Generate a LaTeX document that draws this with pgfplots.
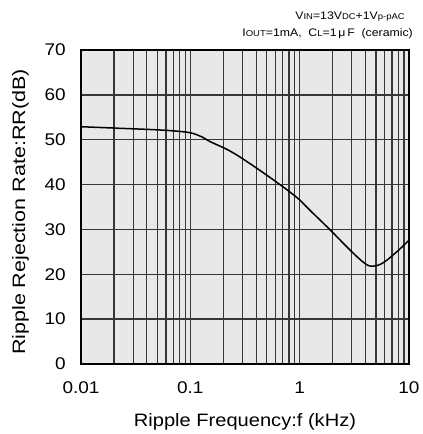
\documentclass[border=0pt]{standalone}
\usepackage{fontspec}
\setmainfont{Liberation Sans}
\newfontfamily\wide[FakeStretch=1.12]{Liberation Sans}
\newfontfamily\wider[FakeStretch=1.2]{Liberation Sans}
\usepackage{pgfplots}
\pgfplotsset{compat=1.18}
\definecolor{bgfill}{RGB}{232,232,232}
\definecolor{gridc}{RGB}{55,55,55}

\begin{document}
\begin{tikzpicture}
  \path[use as bounding box] (-81bp,-70bp) rectangle (342bp,364bp);
  \begin{axis}[
    scale only axis,
    width=328bp, height=314bp,
    xmode=log,
    xmin=0.01, xmax=10,
    ymin=0, ymax=70,
    xtick={0.01,0.1,1,10},
    xticklabels={0.01,0.1,1,10},
    ytick={0,10,...,70},
    yticklabels={0,10,20,30,40,50,60,70},
    major tick length=0pt, minor tick length=0pt,
    grid=both,
    major grid style={gridc, line width=1.3bp},
    minor grid style={gridc, line width=1.3bp},
    axis line style={black, line width=1.1bp},
    axis background/.style={fill=bgfill},
    tick label style={font=\wide\fontsize{17}{19}\selectfont, inner sep=0pt},
    xticklabel style={anchor=center, yshift=-24bp},
    yticklabel style={anchor=east, xshift=-15bp},
    xlabel={Ripple Frequency:f (kHz)},
    ylabel={Ripple Rejection Rate:RR(dB)},
    xlabel style={font=\wide\fontsize{18}{20}\selectfont, inner sep=0pt,
      at={(axis description cs:0.5,-0.2006)}, anchor=base},
    ylabel style={font=\wider\fontsize{18}{20}\selectfont, inner sep=0pt,
      at={(axis description cs:-0.1707,0.484)}, anchor=base},
  ]
    \addplot[black, line width=1.5bp, smooth, tension=0.6] coordinates {
      (0.01,52.9) (0.02,52.6) (0.05,52.2) (0.08,51.85) (0.1,51.55)
      (0.115,51.1) (0.13,50.55) (0.151,49.6) (0.23,47.5)
      (0.35,44.7) (0.66,40.0) (1.0,36.6) (1.24,34.3) (1.9,29.9)
      (2.89,25.4) (3.96,22.4) (4.72,21.8) (5.83,22.6) (7.72,25.0) (10,27.6)
    };
  \end{axis}
  \node[anchor=base east, font=\wide\fontsize{11}{12}\selectfont, inner sep=0pt]
    at (324bp,344bp) {V{\fontsize{8.5}{9}\selectfont IN}=13V{\fontsize{8.5}{9}\selectfont DC}+1V{\fontsize{8.5}{9}\selectfont p-pAC}};
  \node[anchor=base east, font=\wide\fontsize{11}{12}\selectfont, inner sep=0pt]
    at (332bp,327bp) {I{\fontsize{8.5}{9}\selectfont OUT}=1mA,\ \ C{\fontsize{8.5}{9}\selectfont L}=1\,μ\,F\ \ (ceramic)};
\end{tikzpicture}
\end{document}
